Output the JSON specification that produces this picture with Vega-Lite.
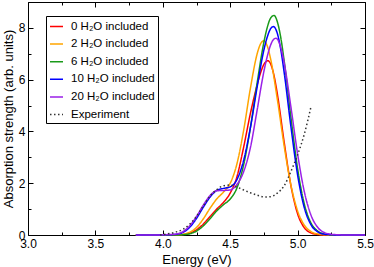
{
  "$schema": "https://vega.github.io/schema/vega-lite/v6.json",
  "width": 337,
  "height": 233,
  "autosize": {"type": "none"},
  "padding": {"left": 28, "top": 2, "right": 9, "bottom": 32},
  "background": "white",
  "config": {
    "view": {"stroke": "#000", "strokeWidth": 1},
    "font": "Liberation Sans",
    "axis": {"grid": false, "domain": false, "tickColor": "#000", "labelColor": "#000", "titleColor": "#000", "labelFontSize": 12, "titleFontSize": 13, "titleFontWeight": "normal", "labelFont": "Liberation Sans", "titleFont": "Liberation Sans", "labelOverlap": false, "labelFlush": false, "labelBound": false}
  },
  "datasets": {
    "models": [
      {"s": "0 H₂O included", "x": 3.8, "y": 0},
      {"s": "0 H₂O included", "x": 4.0, "y": 0},
      {"s": "0 H₂O included", "x": 4.1, "y": 0},
      {"s": "0 H₂O included", "x": 4.15, "y": 0.02},
      {"s": "0 H₂O included", "x": 4.2, "y": 0.07},
      {"s": "0 H₂O included", "x": 4.25, "y": 0.2},
      {"s": "0 H₂O included", "x": 4.3, "y": 0.42},
      {"s": "0 H₂O included", "x": 4.35, "y": 0.71},
      {"s": "0 H₂O included", "x": 4.4, "y": 1.0},
      {"s": "0 H₂O included", "x": 4.45, "y": 1.26},
      {"s": "0 H₂O included", "x": 4.5, "y": 1.62},
      {"s": "0 H₂O included", "x": 4.55, "y": 2.25},
      {"s": "0 H₂O included", "x": 4.6, "y": 3.4},
      {"s": "0 H₂O included", "x": 4.65, "y": 4.7},
      {"s": "0 H₂O included", "x": 4.7, "y": 5.8},
      {"s": "0 H₂O included", "x": 4.725, "y": 6.26},
      {"s": "0 H₂O included", "x": 4.75, "y": 6.59},
      {"s": "0 H₂O included", "x": 4.78, "y": 6.73},
      {"s": "0 H₂O included", "x": 4.8, "y": 6.61},
      {"s": "0 H₂O included", "x": 4.825, "y": 6.16},
      {"s": "0 H₂O included", "x": 4.85, "y": 5.44},
      {"s": "0 H₂O included", "x": 4.9, "y": 3.6},
      {"s": "0 H₂O included", "x": 4.95, "y": 1.92},
      {"s": "0 H₂O included", "x": 5.0, "y": 0.82},
      {"s": "0 H₂O included", "x": 5.05, "y": 0.28},
      {"s": "0 H₂O included", "x": 5.1, "y": 0.08},
      {"s": "0 H₂O included", "x": 5.15, "y": 0.02},
      {"s": "0 H₂O included", "x": 5.2, "y": 0},
      {"s": "0 H₂O included", "x": 5.5, "y": 0},
      {"s": "2 H₂O included", "x": 3.8, "y": 0},
      {"s": "2 H₂O included", "x": 4.0, "y": 0},
      {"s": "2 H₂O included", "x": 4.1, "y": 0.01},
      {"s": "2 H₂O included", "x": 4.15, "y": 0.03},
      {"s": "2 H₂O included", "x": 4.2, "y": 0.11},
      {"s": "2 H₂O included", "x": 4.25, "y": 0.29},
      {"s": "2 H₂O included", "x": 4.3, "y": 0.62},
      {"s": "2 H₂O included", "x": 4.35, "y": 1.03},
      {"s": "2 H₂O included", "x": 4.4, "y": 1.39},
      {"s": "2 H₂O included", "x": 4.45, "y": 1.66},
      {"s": "2 H₂O included", "x": 4.5, "y": 2.0},
      {"s": "2 H₂O included", "x": 4.55, "y": 2.75},
      {"s": "2 H₂O included", "x": 4.6, "y": 4.05},
      {"s": "2 H₂O included", "x": 4.65, "y": 5.67},
      {"s": "2 H₂O included", "x": 4.7, "y": 7.0},
      {"s": "2 H₂O included", "x": 4.725, "y": 7.38},
      {"s": "2 H₂O included", "x": 4.75, "y": 7.5},
      {"s": "2 H₂O included", "x": 4.775, "y": 7.3},
      {"s": "2 H₂O included", "x": 4.8, "y": 6.8},
      {"s": "2 H₂O included", "x": 4.85, "y": 5.23},
      {"s": "2 H₂O included", "x": 4.9, "y": 3.45},
      {"s": "2 H₂O included", "x": 4.95, "y": 1.94},
      {"s": "2 H₂O included", "x": 5.0, "y": 0.93},
      {"s": "2 H₂O included", "x": 5.05, "y": 0.38},
      {"s": "2 H₂O included", "x": 5.1, "y": 0.13},
      {"s": "2 H₂O included", "x": 5.15, "y": 0.04},
      {"s": "2 H₂O included", "x": 5.2, "y": 0.01},
      {"s": "2 H₂O included", "x": 5.25, "y": 0},
      {"s": "2 H₂O included", "x": 5.5, "y": 0},
      {"s": "6 H₂O included", "x": 3.8, "y": 0},
      {"s": "6 H₂O included", "x": 4.1, "y": 0},
      {"s": "6 H₂O included", "x": 4.15, "y": 0.01},
      {"s": "6 H₂O included", "x": 4.2, "y": 0.05},
      {"s": "6 H₂O included", "x": 4.25, "y": 0.15},
      {"s": "6 H₂O included", "x": 4.3, "y": 0.35},
      {"s": "6 H₂O included", "x": 4.35, "y": 0.63},
      {"s": "6 H₂O included", "x": 4.4, "y": 0.93},
      {"s": "6 H₂O included", "x": 4.45, "y": 1.17},
      {"s": "6 H₂O included", "x": 4.5, "y": 1.39},
      {"s": "6 H₂O included", "x": 4.55, "y": 1.82},
      {"s": "6 H₂O included", "x": 4.6, "y": 2.72},
      {"s": "6 H₂O included", "x": 4.65, "y": 4.15},
      {"s": "6 H₂O included", "x": 4.7, "y": 5.88},
      {"s": "6 H₂O included", "x": 4.75, "y": 7.45},
      {"s": "6 H₂O included", "x": 4.775, "y": 8.02},
      {"s": "6 H₂O included", "x": 4.8, "y": 8.38},
      {"s": "6 H₂O included", "x": 4.825, "y": 8.48},
      {"s": "6 H₂O included", "x": 4.85, "y": 8.23},
      {"s": "6 H₂O included", "x": 4.875, "y": 7.63},
      {"s": "6 H₂O included", "x": 4.9, "y": 6.74},
      {"s": "6 H₂O included", "x": 4.95, "y": 4.57},
      {"s": "6 H₂O included", "x": 5.0, "y": 2.56},
      {"s": "6 H₂O included", "x": 5.05, "y": 1.19},
      {"s": "6 H₂O included", "x": 5.1, "y": 0.46},
      {"s": "6 H₂O included", "x": 5.15, "y": 0.15},
      {"s": "6 H₂O included", "x": 5.2, "y": 0.04},
      {"s": "6 H₂O included", "x": 5.25, "y": 0.01},
      {"s": "6 H₂O included", "x": 5.3, "y": 0},
      {"s": "6 H₂O included", "x": 5.5, "y": 0},
      {"s": "10 H₂O included", "x": 3.8, "y": 0},
      {"s": "10 H₂O included", "x": 3.95, "y": 0},
      {"s": "10 H₂O included", "x": 4.0, "y": 0.01},
      {"s": "10 H₂O included", "x": 4.05, "y": 0.01},
      {"s": "10 H₂O included", "x": 4.1, "y": 0.03},
      {"s": "10 H₂O included", "x": 4.15, "y": 0.1},
      {"s": "10 H₂O included", "x": 4.2, "y": 0.3},
      {"s": "10 H₂O included", "x": 4.25, "y": 0.64},
      {"s": "10 H₂O included", "x": 4.3, "y": 1.07},
      {"s": "10 H₂O included", "x": 4.35, "y": 1.46},
      {"s": "10 H₂O included", "x": 4.4, "y": 1.72},
      {"s": "10 H₂O included", "x": 4.45, "y": 1.8},
      {"s": "10 H₂O included", "x": 4.5, "y": 1.86},
      {"s": "10 H₂O included", "x": 4.55, "y": 2.14},
      {"s": "10 H₂O included", "x": 4.6, "y": 2.89},
      {"s": "10 H₂O included", "x": 4.65, "y": 4.15},
      {"s": "10 H₂O included", "x": 4.7, "y": 5.72},
      {"s": "10 H₂O included", "x": 4.75, "y": 7.15},
      {"s": "10 H₂O included", "x": 4.775, "y": 7.65},
      {"s": "10 H₂O included", "x": 4.8, "y": 7.97},
      {"s": "10 H₂O included", "x": 4.82, "y": 8.05},
      {"s": "10 H₂O included", "x": 4.85, "y": 7.78},
      {"s": "10 H₂O included", "x": 4.875, "y": 7.17},
      {"s": "10 H₂O included", "x": 4.9, "y": 6.29},
      {"s": "10 H₂O included", "x": 4.95, "y": 4.2},
      {"s": "10 H₂O included", "x": 5.0, "y": 2.32},
      {"s": "10 H₂O included", "x": 5.05, "y": 1.05},
      {"s": "10 H₂O included", "x": 5.1, "y": 0.39},
      {"s": "10 H₂O included", "x": 5.15, "y": 0.12},
      {"s": "10 H₂O included", "x": 5.2, "y": 0.03},
      {"s": "10 H₂O included", "x": 5.25, "y": 0.01},
      {"s": "10 H₂O included", "x": 5.3, "y": 0},
      {"s": "10 H₂O included", "x": 5.5, "y": 0},
      {"s": "20 H₂O included", "x": 3.8, "y": 0},
      {"s": "20 H₂O included", "x": 3.95, "y": 0},
      {"s": "20 H₂O included", "x": 4.0, "y": 0.01},
      {"s": "20 H₂O included", "x": 4.05, "y": 0.02},
      {"s": "20 H₂O included", "x": 4.1, "y": 0.04},
      {"s": "20 H₂O included", "x": 4.15, "y": 0.13},
      {"s": "20 H₂O included", "x": 4.2, "y": 0.36},
      {"s": "20 H₂O included", "x": 4.25, "y": 0.72},
      {"s": "20 H₂O included", "x": 4.3, "y": 1.15},
      {"s": "20 H₂O included", "x": 4.35, "y": 1.52},
      {"s": "20 H₂O included", "x": 4.4, "y": 1.71},
      {"s": "20 H₂O included", "x": 4.45, "y": 1.72},
      {"s": "20 H₂O included", "x": 4.5, "y": 1.74},
      {"s": "20 H₂O included", "x": 4.55, "y": 1.95},
      {"s": "20 H₂O included", "x": 4.6, "y": 2.45},
      {"s": "20 H₂O included", "x": 4.65, "y": 3.38},
      {"s": "20 H₂O included", "x": 4.7, "y": 4.83},
      {"s": "20 H₂O included", "x": 4.75, "y": 6.32},
      {"s": "20 H₂O included", "x": 4.775, "y": 6.9},
      {"s": "20 H₂O included", "x": 4.8, "y": 7.34},
      {"s": "20 H₂O included", "x": 4.825, "y": 7.57},
      {"s": "20 H₂O included", "x": 4.84, "y": 7.6},
      {"s": "20 H₂O included", "x": 4.875, "y": 7.24},
      {"s": "20 H₂O included", "x": 4.9, "y": 6.66},
      {"s": "20 H₂O included", "x": 4.95, "y": 4.96},
      {"s": "20 H₂O included", "x": 5.0, "y": 3.13},
      {"s": "20 H₂O included", "x": 5.05, "y": 1.67},
      {"s": "20 H₂O included", "x": 5.1, "y": 0.76},
      {"s": "20 H₂O included", "x": 5.15, "y": 0.29},
      {"s": "20 H₂O included", "x": 5.2, "y": 0.09},
      {"s": "20 H₂O included", "x": 5.25, "y": 0.03},
      {"s": "20 H₂O included", "x": 5.3, "y": 0.01},
      {"s": "20 H₂O included", "x": 5.35, "y": 0},
      {"s": "20 H₂O included", "x": 5.5, "y": 0}
    ],
    "exp": [
      {"s": "Experiment", "x": 3.98, "y": 0},
      {"s": "Experiment", "x": 4.05, "y": 0.06},
      {"s": "Experiment", "x": 4.1, "y": 0.12},
      {"s": "Experiment", "x": 4.15, "y": 0.22},
      {"s": "Experiment", "x": 4.2, "y": 0.42},
      {"s": "Experiment", "x": 4.25, "y": 0.72},
      {"s": "Experiment", "x": 4.3, "y": 1.12},
      {"s": "Experiment", "x": 4.35, "y": 1.5},
      {"s": "Experiment", "x": 4.4, "y": 1.75},
      {"s": "Experiment", "x": 4.45, "y": 1.9},
      {"s": "Experiment", "x": 4.5, "y": 1.93},
      {"s": "Experiment", "x": 4.55, "y": 1.85},
      {"s": "Experiment", "x": 4.6, "y": 1.74},
      {"s": "Experiment", "x": 4.65, "y": 1.63},
      {"s": "Experiment", "x": 4.7, "y": 1.54},
      {"s": "Experiment", "x": 4.75, "y": 1.47},
      {"s": "Experiment", "x": 4.8, "y": 1.48},
      {"s": "Experiment", "x": 4.85, "y": 1.62},
      {"s": "Experiment", "x": 4.9, "y": 1.9},
      {"s": "Experiment", "x": 4.95, "y": 2.45},
      {"s": "Experiment", "x": 5.0, "y": 3.1},
      {"s": "Experiment", "x": 5.05, "y": 3.9},
      {"s": "Experiment", "x": 5.1, "y": 4.97}
    ]
  },
  "layer": [
    {
      "data": {"name": "models"},
      "mark": {"type": "line", "interpolate": "monotone", "strokeWidth": 1.5},
      "encoding": {
        "x": {"field": "x", "type": "quantitative", "scale": {"domain": [3, 5.5], "nice": false, "zero": false},
          "axis": {"orient": "bottom", "title": "Energy (eV)", "values": [3, 3.25, 3.5, 3.75, 4, 4.25, 4.5, 4.75, 5, 5.25, 5.5],
            "labelExpr": "(datum.value * 2) % 1 == 0 ? format(datum.value, '.1f') : ''",
            "tickSize": {"condition": {"test": "(datum.value * 2) % 1 == 0", "value": -5}, "value": -3},
            "labelPadding": 8, "titlePadding": 2}},
        "y": {"field": "y", "type": "quantitative", "scale": {"domain": [0, 9], "nice": false},
          "axis": {"orient": "left", "title": "Absorption strength (arb. units)", "values": [0, 1, 2, 3, 4, 5, 6, 7, 8, 9],
            "labelExpr": "datum.value % 2 == 0 ? format(datum.value, 'd') : ''",
            "tickSize": {"condition": {"test": "datum.value % 2 == 0", "value": -5}, "value": -3},
            "labelPadding": 8, "titlePadding": 3}},
        "color": {"field": "s", "type": "nominal",
          "scale": {"domain": ["0 H₂O included", "2 H₂O included", "6 H₂O included", "10 H₂O included", "20 H₂O included", "Experiment"],
            "range": ["#ff0000", "#ffa500", "#1a9a1a", "#0000ff", "#9a20e8", "#333333"]},
          "legend": {"orient": "none", "legendX": 18, "legendY": 14, "title": null, "symbolType": "stroke", "symbolSize": 169, "symbolStrokeWidth": 1.5, "labelFontSize": 11.5, "labelOffset": 7, "rowPadding": 4.6, "padding": 3, "strokeColor": "#000", "fillColor": "#fff", "labelColor": "#000", "labelFont": "Liberation Sans"}},
        "strokeDash": {"field": "s", "type": "nominal",
          "scale": {"domain": ["0 H₂O included", "2 H₂O included", "6 H₂O included", "10 H₂O included", "20 H₂O included", "Experiment"],
            "range": [[1, 0], [1, 0], [1, 0], [1, 0], [1, 0], [1.5, 2.5]]},
          "legend": {"orient": "none", "legendX": 18, "legendY": 14, "title": null, "symbolType": "stroke", "symbolSize": 169, "symbolStrokeWidth": 1.5, "labelFontSize": 11.5, "labelOffset": 7, "rowPadding": 4.6, "padding": 3, "strokeColor": "#000", "fillColor": "#fff", "labelColor": "#000", "labelFont": "Liberation Sans"}}
      }
    },
    {
      "data": {"name": "exp"},
      "mark": {"type": "line", "interpolate": "monotone", "strokeWidth": 1.5},
      "encoding": {
        "x": {"field": "x", "type": "quantitative",
          "axis": {"orient": "top", "title": null, "labels": false, "values": [3, 3.25, 3.5, 3.75, 4, 4.25, 4.5, 4.75, 5, 5.25, 5.5],
            "tickSize": {"condition": {"test": "(datum.value * 2) % 1 == 0", "value": -5}, "value": -3}}},
        "y": {"field": "y", "type": "quantitative",
          "axis": {"orient": "right", "title": null, "labels": false, "values": [0, 1, 2, 3, 4, 5, 6, 7, 8, 9],
            "tickSize": {"condition": {"test": "datum.value % 2 == 0", "value": -5}, "value": -3}}},
        "color": {"field": "s", "type": "nominal"},
        "strokeDash": {"field": "s", "type": "nominal"}
      }
    }
  ],
  "resolve": {"axis": {"x": "independent", "y": "independent"}}
}
